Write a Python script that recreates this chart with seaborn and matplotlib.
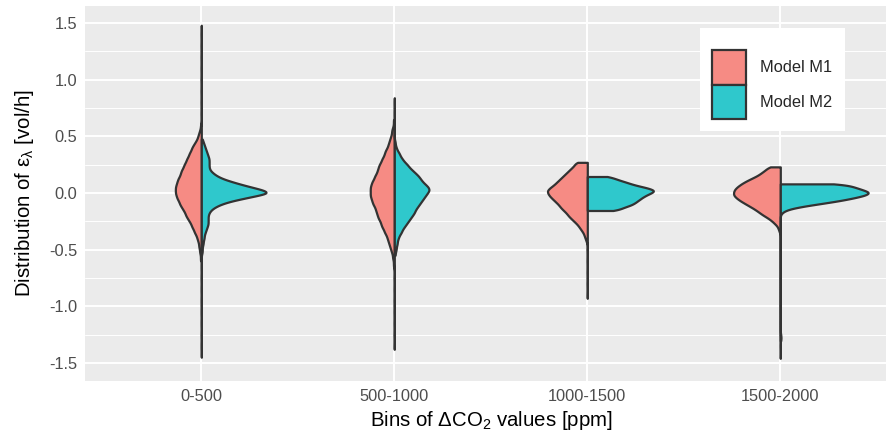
import numpy as np
import pandas as pd
import matplotlib
matplotlib.use("Agg")
import matplotlib.pyplot as plt
from matplotlib.patches import Patch
from matplotlib.ticker import MultipleLocator
import seaborn as sns

bins = ["0-500", "500-1000", "1000-1500", "1500-2000"]
models = ["Model M1", "Model M2"]
colors = ["#F68B84", "#2FC8CC"]
yticks = [-1.5, -1.0, -0.5, 0.0, 0.5, 1.0, 1.5]
ytick_labels = ["-1.5", "-1.0", "-0.5", "0.0", "0.5", "1.0", "1.5"]

# residual counts, one count every 0.025 starting at lo
step = 0.025

m1_a_lo = -0.60
m1_a = [1, 1, 1, 2, 2, 3, 3, 4, 5, 6, 8, 9, 11, 12, 14, 16, 18, 19, 21, 23, 25, 26, 28, 29,
        30, 30, 30, 29, 28, 27, 25, 24, 23, 21, 20, 18, 17, 15, 14, 12, 11, 9, 7, 5, 4, 3, 2, 1, 1]
m1_a_tail = [0.7, 0.8, 0.9, 1.0, 1.1, 1.2, 1.3, 1.4, 1.48]

m2_a_lo = -0.525
m2_a = [1, 1, 1, 2, 2, 3, 3, 4, 5, 6, 7, 7, 7, 7, 8, 10, 14, 20, 29, 42, 56,
        70, 64, 52, 41, 31, 22, 16, 12, 9, 8, 8, 8, 8, 7, 6, 5, 4, 3, 2, 1]
m2_a_tail = [-0.6, -0.7, -0.8, -0.9, -1.0, -1.1, -1.2, -1.3, -1.4, -1.45]

m1_b_lo = -0.65
m1_b = [1, 1, 1, 2, 2, 3, 4, 5, 6, 7, 8, 9, 11, 12, 14, 15, 16, 18, 19, 20, 21, 22, 24, 25, 26, 27,
        27, 27, 27, 26, 25, 23, 22, 20, 19, 18, 17, 15, 14, 12, 11, 10, 8, 7, 6, 5, 4, 3, 3, 2, 1, 1, 1]
m1_b_tail = [-0.75, -0.85, -0.95, -1.05, -1.15, -1.25, -1.35, -1.38]

m2_b_lo = -0.55
m2_b = [1, 1, 2, 2, 3, 3, 4, 5, 7, 8, 10, 12, 14, 16, 18, 20, 21, 23, 25, 27, 29, 31,
        33, 35, 34, 31, 28, 26, 24, 21, 18, 15, 13, 10, 8, 6, 5, 3, 2, 1, 1]
m2_b_tail = [0.55, 0.65, 0.75, 0.84]

m1_c_lo = -0.43
m1_c = [1, 2, 3, 4, 6, 8, 10, 13, 16, 19, 21, 24, 27, 29, 32, 35, 38, 40,
        41, 38, 34, 31, 28, 25, 22, 19, 16, 13, 12]
m1_c_tail = [-0.5, -0.6, -0.7, -0.8, -0.9, -0.93]

m2_c_lo = -0.155
m2_c = [32, 36, 46, 50, 54, 58, 64, 71, 62, 48, 40, 30, 24]
m2_c_tail = []

m1_d_lo = -0.345
m1_d = [1, 2, 3, 6, 9, 13, 18, 22, 26, 31, 36, 41, 45, 48, 48, 47, 44, 40, 35, 29, 23, 19, 15, 12]
m1_d_tail = [-0.45, -0.55, -0.65, -0.75, -0.85, -0.95, -1.05, -1.15, -1.25, -1.35, -1.46]

m2_d_lo = -0.17
m2_d = [2, 7, 20, 38, 56, 70, 82, 87, 78, 70, 62]
m2_d_tail = [-0.25, -0.35, -0.45, -0.55, -0.65, -0.75, -0.85, -0.95, -1.05, -1.15, -1.25]
m2_d_blob_lo = -1.305
m2_d_blob = [1, 2, 1]


def sample(lo, counts, k=10):
    vals = np.round(lo + step * np.arange(len(counts)), 4)
    return np.repeat(vals, np.array(counts) * k)


groups = [
    (bins[0], models[0], [sample(m1_a_lo, m1_a), m1_a_tail]),
    (bins[0], models[1], [sample(m2_a_lo, m2_a), m2_a_tail]),
    (bins[1], models[0], [sample(m1_b_lo, m1_b), m1_b_tail]),
    (bins[1], models[1], [sample(m2_b_lo, m2_b), m2_b_tail]),
    (bins[2], models[0], [sample(m1_c_lo, m1_c), m1_c_tail]),
    (bins[2], models[1], [sample(m2_c_lo, m2_c), m2_c_tail]),
    (bins[3], models[0], [sample(m1_d_lo, m1_d), m1_d_tail]),
    (bins[3], models[1], [sample(m2_d_lo, m2_d), m2_d_tail, sample(m2_d_blob_lo, m2_d_blob, 4)]),
]
frames = []
for b, m, parts in groups:
    v = np.concatenate([np.asarray(p, dtype=float) for p in parts])
    frames.append(pd.DataFrame({"bin": b, "model": m, "eps": v}))
df = pd.concat(frames, ignore_index=True)

sns.set_theme(style="darkgrid")
plt.rcParams["font.family"] = ["Liberation Sans", "DejaVu Sans"]
plt.rcParams["mathtext.fontset"] = "custom"
plt.rcParams["mathtext.rm"] = "Liberation Sans"
plt.rcParams["mathtext.it"] = "Liberation Sans:italic"
plt.rcParams["axes.unicode_minus"] = False

fig = plt.figure(figsize=(8.87, 4.37), dpi=100)
ax = fig.add_axes([85.5 / 887, 56 / 437, 810.6 / 887, 375 / 437])
ax.set_facecolor("#EBEBEB")

sns.violinplot(data=df, x="bin", y="eps", hue="model", order=bins, hue_order=models,
               split=True, inner=None, cut=0, density_norm="area", common_norm=True,
               bw_method=lambda k: 0.017 / k.dataset.std(), gridsize=400,
               palette=colors, saturation=1, width=0.91, linewidth=1.6,
               linecolor="#333333", legend=False, ax=ax)

ax.set_xlim(-0.6, 3.6)
ax.set_ylim(-1.66, 1.65)
ax.set_yticks(yticks, ytick_labels)
ax.yaxis.set_minor_locator(MultipleLocator(0.25))
ax.grid(which="major", color="white", linewidth=1.4)
ax.grid(which="minor", axis="y", color="white", linewidth=0.7)
ax.grid(which="minor", axis="x", visible=False)
ax.set_axisbelow(True)
for s in ax.spines.values():
    s.set_visible(False)
ax.tick_params(which="major", length=3.6, width=1.1, color="#333333",
               labelcolor="#4D4D4D", labelsize=11.8, pad=2.5)
ax.tick_params(which="minor", length=0)

ax.set_xlabel(r"Bins of ΔCO$_{\mathrm{2}}$ values [ppm]", fontsize=14.7, color="black", labelpad=3)
ax.set_ylabel(r"Distribution of ε$_{\mathrm{λ}}$ [vol/h]", fontsize=14.7, color="black", labelpad=9.5)

handles = [Patch(facecolor=c, edgecolor="#333333", linewidth=1.6) for c in colors]
leg = ax.legend(handles, models, loc="upper left", bbox_to_anchor=(700 / 887, 1 - 28 / 437),
                bbox_transform=fig.transFigure, fontsize=11.8, title=" ", title_fontsize=8,
                handlelength=2.07, handleheight=2.85, labelspacing=0, handletextpad=0.85,
                borderpad=0.75, borderaxespad=0, frameon=True, fancybox=False, framealpha=1)
leg.get_frame().set_edgecolor("none")
leg.get_frame().set_facecolor("white")

fig.savefig("out.png", dpi=100)
